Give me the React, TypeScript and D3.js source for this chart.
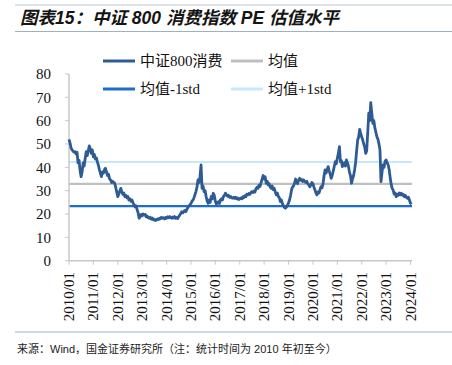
import React from "react";
import * as d3 from "d3";

const yearLabels = ["2010/01","2011/01","2012/01","2013/01","2014/01","2015/01","2016/01","2017/01","2018/01","2019/01","2020/01","2021/01","2022/01","2023/01","2024/01"];
const yTicks = [0, 10, 20, 30, 40, 50, 60, 70, 80];

// semi-monthly PE readings (1st and 16th of each month), Jan 2010 .. Jan 2024
const pe2010 = [52, 50.5, 48.3, 47.5, 47, 46.5, 46.7, 45.8, 46.5, 41.9, 43, 38.5, 36, 38, 41.9, 40.5, 44, 46.7, 45, 47, 49.2, 48, 46, 47.5];
const pe2011 = [44.5, 45.5, 43.5, 44, 42.5, 41, 39, 37.5, 36, 38, 37.5, 39, 39.6, 38, 36.5, 37, 35, 34.6, 33.5, 34, 33.5, 33.2, 31.5, 29.5];
const pe2012 = [27.4, 28.5, 30, 31, 29.5, 28.5, 29, 27.4, 28, 27, 27.5, 26, 26.5, 25.5, 26, 24.8, 24, 23.1, 23.5, 22, 20.5, 18.2, 19, 19.8];
const pe2013 = [19.2, 20, 19.6, 19.8, 18.8, 19.2, 18.4, 18.2, 18.6, 17.8, 18.3, 17.5, 17.8, 17.2, 17.4, 17.9, 17.6, 18.2, 18, 18.6, 18.2, 18.4, 17.9, 18.5];
const pe2014 = [18.2, 18.8, 18.4, 18.9, 18.6, 18.2, 18.7, 18.3, 18.9, 18.2, 18.5, 18.1, 18.8, 19.5, 20.2, 21, 20.5, 21, 21.5, 21, 22, 22.8, 23.5, 23.9];
const pe2015 = [24.5, 25.5, 26, 27, 28.2, 29.5, 31.5, 34.6, 33.5, 36, 41, 31, 32, 29.6, 30, 27.5, 25.5, 24.6, 26, 25, 27.5, 26.5, 28.9, 28];
const pe2016 = [25.5, 24.3, 24.8, 25.3, 24.5, 26, 26.5, 26, 27.5, 28, 28.9, 28.2, 27.6, 28, 27.2, 27.5, 27, 26.8, 27.2, 26.7, 27.2, 26.5, 26.9, 26.2];
const pe2017 = [26.5, 26.9, 26.5, 27.4, 27, 27.8, 27.4, 28.5, 28.2, 28.8, 28.4, 29.2, 29.6, 29.2, 29.9, 29.4, 30.8, 31.5, 31, 32.4, 31.8, 33.5, 35, 36.5];
const pe2018 = [35, 36, 33.2, 34, 32.5, 33, 31.5, 31, 32, 30.5, 31, 29.5, 28.2, 29, 27.5, 27, 25.3, 26, 24.5, 23.5, 22.8, 22.5, 23, 23.8];
const pe2019 = [24.8, 26, 28, 30.5, 31.5, 32, 33.2, 35, 34, 33, 34.5, 35.3, 34.5, 34.8, 33.9, 34.6, 33.9, 33.5, 34, 33, 32.5, 31.7, 32.5, 33.5];
const pe2020 = [33, 31.5, 30.3, 29, 28.2, 29.5, 29, 30.5, 31.7, 31.2, 33, 36.5, 38.9, 37.5, 39, 40.3, 38.5, 37, 35.3, 36.5, 38.5, 40.5, 42.4, 41.5];
const pe2021 = [44, 46, 48.9, 42.4, 43, 40.3, 41.5, 42, 40.5, 43.2, 42, 40.5, 38, 36.5, 33.2, 35, 36.5, 38.9, 42, 47, 51.7, 53, 56.3, 54.5];
const pe2022 = [53, 51.7, 50, 48.5, 46, 47, 55, 63.2, 60, 67.7, 63, 58.9, 60, 57, 55, 53.1, 52, 50, 47.4, 33.9, 38, 41, 40, 42.5];
const pe2023 = [43.2, 42, 41, 38.9, 36, 33, 31, 30.3, 28.5, 29, 27.4, 28.5, 28, 29, 28.2, 28.9, 28, 28.4, 27.4, 28, 27.2, 26.7, 27.2, 26];
const pe2024 = [24.6, 24.2];

const meanVal = 32.9;
const minusStd = 23.4;
const plusStd = 42.3;

const peSeries = [
  ...pe2010, ...pe2011, ...pe2012, ...pe2013, ...pe2014, ...pe2015, ...pe2016,
  ...pe2017, ...pe2018, ...pe2019, ...pe2020, ...pe2021, ...pe2022, ...pe2023, ...pe2024,
];

const C_SERIES = "#2F5B95";
const C_MEAN = "#BFBFBF";
const C_MINUS = "#1A6ECC";
const C_PLUS = "#C6E8FB";
const SERIF = "Liberation Serif, Times New Roman, serif";
const CJK = "Liberation Serif, Noto Sans CJK SC, serif";
const SANS = "Liberation Sans, Arial, Noto Sans CJK SC, sans-serif";

export default function App() {
  const W = 452, H = 365;
  const x = d3.scaleTime()
    .domain([new Date(2010, 0, 1), new Date(2024, 0, 1)])
    .range([69, 410.5]);
  const y = d3.scaleLinear().domain([0, 80]).range([260.7, 74]);
  const data = peSeries.map((v, i) => ({ d: new Date(2010, Math.floor(i / 2), i % 2 ? 16 : 1), v }));
  const line = d3.line<{ d: Date; v: number }>()
    .x((p) => x(p.d))
    .y((p) => y(p.v))
    .curve(d3.curveLinear);
  const x0 = x.range()[0], x1 = 412;
  const hlines = [
    { v: meanVal, c: C_MEAN },
    { v: plusStd, c: C_PLUS },
    { v: minusStd, c: C_MINUS },
  ];
  const legend = [
    { label: "中证800消费", c: C_SERIES, lx: 103, ly: 61 },
    { label: "均值", c: C_MEAN, lx: 231, ly: 61 },
    { label: "均值-1std", c: C_MINUS, lx: 103, ly: 89 },
    { label: "均值+1std", c: C_PLUS, lx: 231, ly: 89 },
  ];
  return (
    <svg width={W} height={H} style={{ position: "absolute", left: 0, top: 0, background: "#fff" }}>
      <rect width={W} height={H} fill="#fff" />
      <line x1={15} x2={452} y1={5} y2={5} stroke="#B7C6D6" strokeWidth={1} />
      <text x={20} y={24} style={{ fontFamily: SANS }} fontSize={17.5}
        fontWeight="bold" fontStyle="italic" fill="#141414">图表15：中证 800 消费指数 PE 估值水平</text>
      <line x1={15} x2={452} y1={31.5} y2={31.5} stroke="#9DB1C6" strokeWidth={1.2} />

      {/* horizontal reference lines */}
      {hlines.map((h, i) => (
        <line key={i} x1={x0} x2={x1} y1={y(h.v)} y2={y(h.v)} stroke={h.c} strokeWidth={2.2} />
      ))}

      {/* axes */}
      <line x1={x0} x2={x0} y1={y(80)} y2={y(0)} stroke="#C8C8C8" strokeWidth={1.5} />
      {yTicks.map((t) => (
        <g key={t}>
          <line x1={x0 - 4} x2={x0} y1={y(t)} y2={y(t)} stroke="#C8C8C8" strokeWidth={1} />
          <text x={51} y={y(t)} dy="0.35em" textAnchor="end" style={{ fontFamily: SERIF }} fontSize={15} fill="#111">{t}</text>
        </g>
      ))}
      <line x1={x0} x2={x1} y1={y(0)} y2={y(0)} stroke="#C8C8C8" strokeWidth={1.5} />
      {yearLabels.map((lab, i) => {
        const xx = x(new Date(2010 + i, 0, 1));
        return (
          <g key={lab}>
            <line x1={xx} x2={xx} y1={y(0)} y2={y(0) + 4} stroke="#C8C8C8" strokeWidth={1} />
            <text transform={`translate(${xx + 5},${272}) rotate(-90)`} textAnchor="end"
              style={{ fontFamily: SERIF }} fontSize={15} fill="#111">{lab}</text>
          </g>
        );
      })}

      {/* series */}
      <path d={line(data) || ""} fill="none" stroke={C_SERIES} strokeWidth={2.8} strokeLinejoin="round" />

      {/* legend */}
      {legend.map((l) => (
        <g key={l.label}>
          <line x1={l.lx} x2={l.lx + 32} y1={l.ly} y2={l.ly} stroke={l.c} strokeWidth={3} />
          <text x={l.lx + 37} y={l.ly} dy="0.35em" style={{ fontFamily: CJK }} fontSize={15} fill="#111">{l.label}</text>
        </g>
      ))}

      <line x1={15} x2={452} y1={332} y2={332} stroke="#9DB1C6" strokeWidth={1.2} />
      <text x={17} y={353} style={{ fontFamily: SANS }} fontSize={11} fill="#222">来源：Wind，国金证券研究所（注：统计时间为 2010 年初至今）</text>
    </svg>
  );
}
